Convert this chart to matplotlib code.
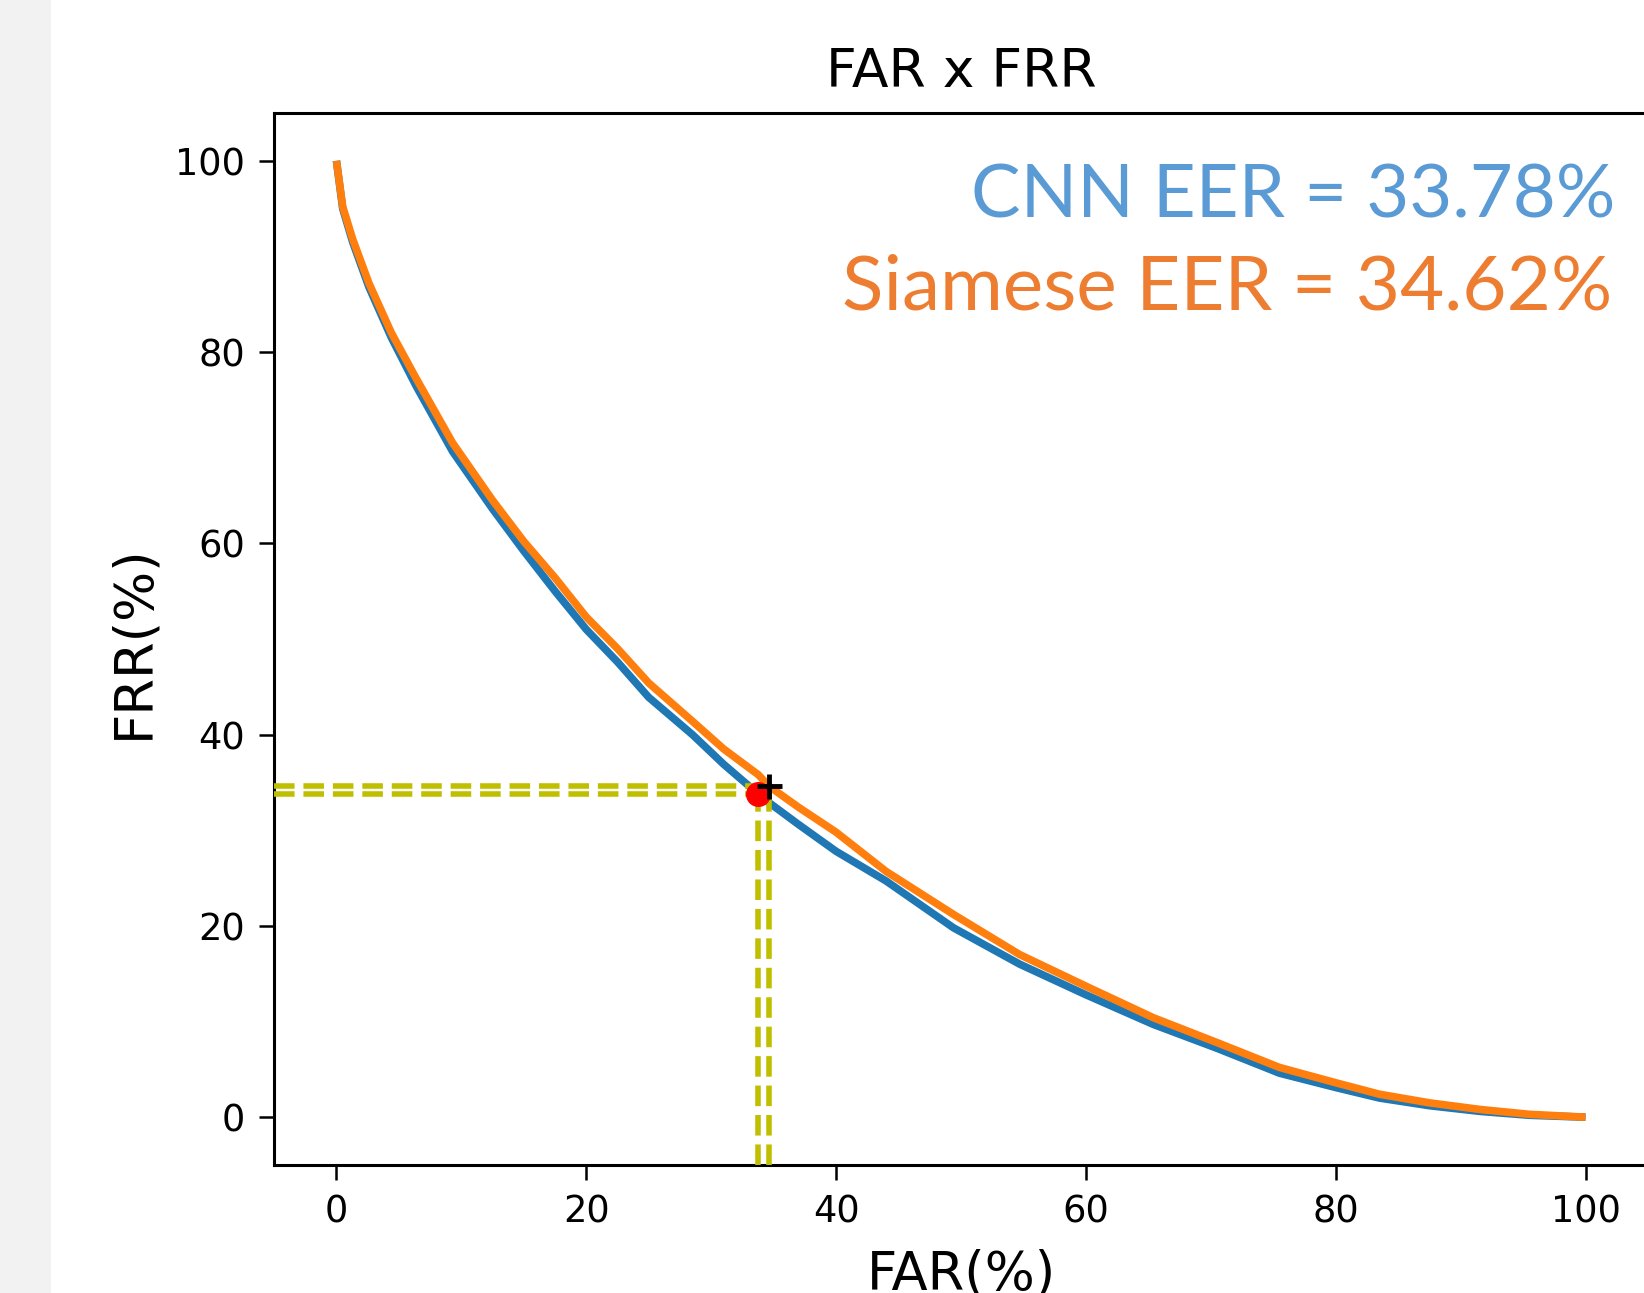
import matplotlib
matplotlib.use("Agg")
import matplotlib.pyplot as plt
from matplotlib.patches import Rectangle

# ---- data ----
far = [0, 0.5, 1.3, 2.6, 4.4, 6.4, 9.3, 12.5, 15, 17.5, 20, 22.5, 25, 28.5, 31,
       33.78, 34.62, 37, 40, 44, 49.4, 54.7, 60, 65.4, 70.5, 75.5, 80, 83.5,
       87.5, 91.6, 95.5, 100]
frr_cnn = [100, 95.0, 91.5, 86.8, 81.5, 76.4, 69.6, 63.6, 59.2, 55.0, 51.0, 47.6,
           43.9, 40.0, 36.9, 33.78, 32.9, 30.6, 27.8, 24.7, 19.8, 16.0, 12.8, 9.7,
           7.2, 4.6, 3.1, 2.0, 1.2, 0.6, 0.2, 0.0]
frr_siamese = [100, 95.2, 91.8, 87.2, 82.0, 77.2, 70.5, 64.5, 60.2, 56.4, 52.3, 49.0,
               45.4, 41.4, 38.5, 35.8, 34.62, 32.4, 29.8, 25.7, 21.2, 17.0, 13.7,
               10.4, 7.8, 5.2, 3.6, 2.4, 1.5, 0.8, 0.3, 0.0]
eer_cnn = 33.78
eer_siamese = 34.62
xticks = [0, 20, 40, 60, 80, 100]
yticks = [0, 20, 40, 60, 80, 100]

W, H = 1644, 1293
fig = plt.figure(figsize=(W / 100, H / 100), dpi=100)
fig.patch.set_facecolor("white")
fig.patches.append(Rectangle((0, 0), 51 / W, 1, transform=fig.transFigure,
                             facecolor="#F2F2F2", edgecolor="none", zorder=0))

left, right, top, bottom = 274, 1648, 113, 1165
ax = fig.add_axes([left / W, (H - bottom) / H, (right - left) / W, (bottom - top) / H])

ax.plot(far, frr_cnn, color="#1f77b4", lw=5.5, solid_capstyle="butt", zorder=2)
ax.plot(far, frr_siamese, color="#ff7f0e", lw=5.5, solid_capstyle="butt", zorder=3)

for e in (eer_cnn, eer_siamese):
    ax.plot([-5, e], [e, e], color="y", ls="--", lw=4, zorder=4)
    ax.plot([e, e], [-5, e], color="y", ls="--", lw=4, zorder=4)

ax.plot([eer_cnn], [eer_cnn], "o", color="red", markersize=17, zorder=5)
ax.plot([eer_siamese], [eer_siamese], "+", color="black", markersize=18, mew=3.5, zorder=6)

ax.set_xlim(-5, 105)
ax.set_ylim(-5, 105)
ax.set_xticks(xticks)
ax.set_yticks(yticks)
ax.tick_params(axis="both", labelsize=26.5, length=10.8, width=1.8, pad=10)
for sp in ax.spines.values():
    sp.set_linewidth(2.2)

ax.set_title("FAR x FRR", fontsize=38.5, pad=18.7)
ax.set_xlabel("FAR(%)", fontsize=38, va="top")
ax.xaxis.set_label_coords(0.5, -0.079)
ax.set_ylabel("FRR(%)", fontsize=38, va="center")
ax.yaxis.set_label_coords(-0.1023, 0.497)

fig.text(1615 / W, 1 - 218 / H, "CNN EER = 33.78%", color="#5B9BD5",
         fontsize=53.5, family=["Lato", "DejaVu Sans"], ha="right", va="baseline")
fig.text(1612 / W, 1 - 310 / H, "Siamese EER = 34.62%", color="#ED7D31",
         fontsize=55, family=["Lato", "DejaVu Sans"], ha="right", va="baseline")

fig.savefig("out.png", dpi=100)
